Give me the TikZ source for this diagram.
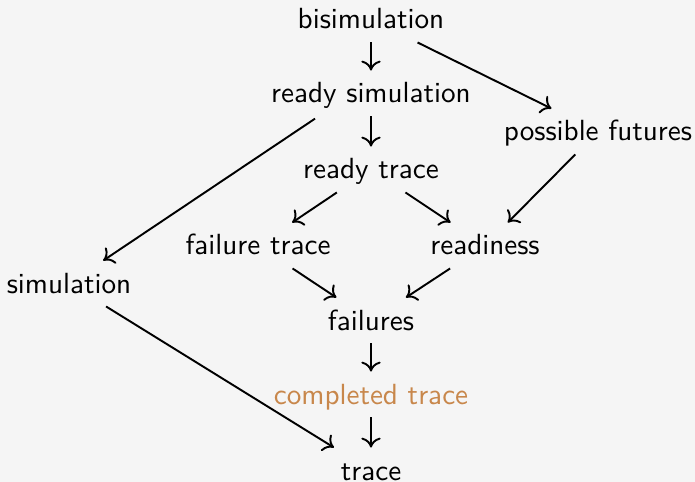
\documentclass[tikz,border=0pt]{standalone}
\usetikzlibrary{arrows.meta}
\definecolor{bgc}{HTML}{F5F5F5}
\definecolor{orangetxt}{RGB}{200,135,75}
\begin{document}
\begin{tikzpicture}[x=0.3636pt,y=-0.3636pt,
  lbl/.style={font=\sffamily\fontsize{10.6}{12.7}\selectfont, anchor=base, text height=9.1pt, text depth=2.2pt, inner ysep=2.5pt, inner xsep=3pt},
  arr/.style={line width=0.7pt, -{To[length=3.6pt,width=7pt]}}]
\fill[bgc] (0,0) rectangle (695,482);
\useasboundingbox (0,0) rectangle (695,482);
\node[lbl] (bis) at (371,29) {bisimulation};
\node[lbl] (rs) at (371,103) {ready simulation};
\node[lbl] (pf) at (598,141) {possible futures};
\node[lbl] (rt) at (371,179) {ready trace};
\node[lbl] (ft) at (258,255) {failure trace};
\node[lbl] (rd) at (485,255) {readiness};
\node[lbl] (sim) at (69,293) {simulation};
\node[lbl] (fl) at (371,330) {failures};
\node[lbl,text=orangetxt] (ct) at (371,404) {completed trace};
\node[lbl] (tr) at (371,480) {trace};
\coordinate (rsx) at ([yshift=4.5pt]rs.center);
\draw[arr] (bis) -- (rs);
\draw[arr] (bis) -- (pf);
\draw[arr] (rs) -- (rt);
\draw[arr, shorten <=24.5pt] (rsx) -- (sim);
\draw[arr] (pf) -- (rd);
\draw[arr] (rt) -- (ft);
\draw[arr] (rt) -- (rd);
\draw[arr] (ft) -- (fl);
\draw[arr] (rd) -- (fl);
\draw[arr] (fl) -- (ct);
\draw[arr] (ct) -- (tr);
\draw[arr] (sim) -- (tr);
\end{tikzpicture}
\end{document}
